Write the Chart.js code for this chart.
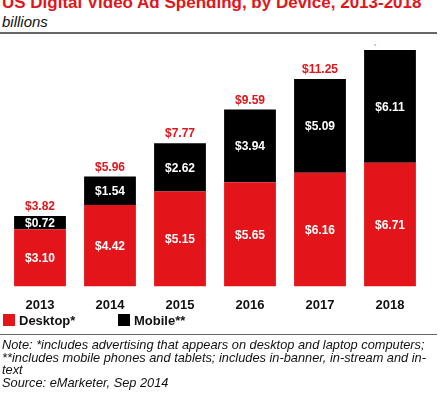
<!DOCTYPE html>
<html><head><meta charset="utf-8">
<script src="https://cdn.jsdelivr.net/npm/chart.js@4"></script>
<style>
body{margin:0;width:440px;height:400px;background:#fff;font-family:Arial,"Liberation Sans",sans-serif;position:relative;overflow:hidden}
#t{position:absolute;left:2px;top:-7px;font-size:17px;font-weight:bold;color:#e3151a;white-space:nowrap}
#s{position:absolute;left:2px;top:13px;font-size:15px;font-style:italic;color:#111}
.rule{position:absolute;left:0;width:437px;height:2px;background:#666}
#cw{position:absolute;left:0;top:44px;width:440px;height:272px}
.lg{position:absolute;top:313px;font-size:13px;font-weight:bold;color:#111}
.sq{display:inline-block;width:12px;height:12px;vertical-align:-1px;margin-right:4px}
#n{position:absolute;left:2px;top:339px;font-size:12.8px;font-style:italic;line-height:12.5px;color:#111;width:436px}
</style></head><body>
<div id="t">US Digital Video Ad Spending, by Device, 2013-2018</div>
<div id="s">billions</div>
<div class="rule" style="top:32px"></div>
<div id="cw"><canvas id="c"></canvas></div>
<div class="lg" style="left:3px"><span class="sq" style="background:#e3151a"></span>Desktop*</div>
<div class="lg" style="left:118px"><span class="sq" style="background:#000"></span>Mobile**</div>
<div class="rule" style="top:334px;height:1px"></div>
<div id="n">Note: *includes advertising that appears on desktop and laptop computers; **includes mobile phones and tablets; includes in-banner, in-stream and in-text<br>Source: eMarketer, Sep 2014</div>
<script>
const years=["2013","2014","2015","2016","2017","2018"];
const desktop=[3.10,4.42,5.15,5.65,6.16,6.71];
const mobile=[0.72,1.54,2.62,3.94,5.09,6.11];
const totals=[3.82,5.96,7.77,9.59,11.25,12.82];
const labelPlugin={id:'lbl',afterDatasetsDraw(ch){
 const c=ch.ctx;c.save();c.textAlign='center';c.textBaseline='middle';c.font='bold 12px Arial';
 ch.data.datasets.forEach((ds,i)=>{ch.getDatasetMeta(i).data.forEach((b,j)=>{
  c.fillStyle='#fff';c.fillText('$'+ds.data[j].toFixed(2),b.x,(b.y+b.base)/2+1);
  if(i===1){c.fillStyle='#e3151a';c.fillText('$'+totals[j].toFixed(2),b.x,b.y-9);}
 });});c.restore();}};
new Chart(document.getElementById('c'),{type:'bar',
data:{labels:years,datasets:[
 {label:'Desktop*',data:desktop,backgroundColor:'#e3151a',barPercentage:0.74,categoryPercentage:1},
 {label:'Mobile**',data:mobile,backgroundColor:'#000',barPercentage:0.74,categoryPercentage:1}]},
options:{responsive:true,maintainAspectRatio:false,animation:false,
 layout:{padding:{left:5,right:15,top:0,bottom:0}},
 plugins:{legend:{display:false},tooltip:{enabled:false}},
 scales:{x:{stacked:true,grid:{display:false},border:{display:false},ticks:{color:'#111',font:{weight:'bold',size:13,family:'Arial'}}},
  y:{stacked:true,display:false,min:0,max:13.15}}},
plugins:[labelPlugin]});
</script></body></html>
